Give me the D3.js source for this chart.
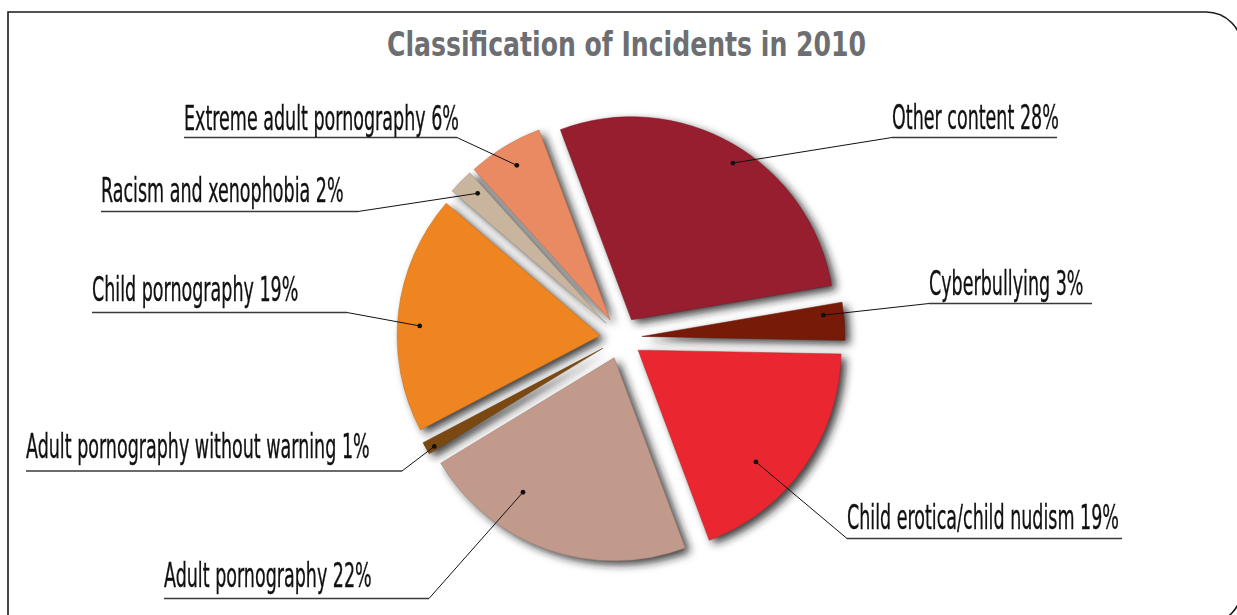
<!DOCTYPE html>
<html>
<head>
<meta charset="utf-8">
<script src="https://cdn.jsdelivr.net/npm/d3@7"></script>
<style>
  html, body { margin: 0; padding: 0; background: #ffffff; }
  svg { display: block; }
</style>
</head>
<body>
<svg id="chart" width="1237" height="615"></svg>
<script>
// Incident categories, clockwise from the top of the pie
const categories = [
  "Other content",
  "Cyberbullying",
  "Child erotica/child nudism",
  "Adult pornography",
  "Adult pornography without warning",
  "Child pornography",
  "Racism and xenophobia",
  "Extreme adult pornography"
];
// Share of incidents, percent
const shares = [28, 3, 19, 22, 1, 19, 2, 6];
const titleText = "Classification of Incidents in 2010";

// Slice fills
const sliceColors = ["#961e2e", "#781a08", "#ea2630", "#c29a8c", "#7a4810", "#ef8520", "#c9b59e", "#e98a62"];

// Callout placement: underline span, baseline, and where the dot sits inside its slice
const labelLayout = [
  { side: "right", x0: 892, x1: 1057, lineY: 137.5, baseline: 129,   dotAt: 0.53, dotR: 0.92 },
  { side: "right", x0: 929, x1: 1092, lineY: 303.5, baseline: 294.5, dotAt: 0.28, dotR: 0.90 },
  { side: "right", x0: 847, x1: 1122, lineY: 538.5, baseline: 528.5, dotAt: 0.62, dotR: 0.80 },
  { side: "left",  x0: 164, x1: 429,  lineY: 598.5, baseline: 587,   dotAt: 0.69, dotR: 0.80 },
  { side: "left",  x0: 26,  x1: 402,  lineY: 471,   baseline: 458,   dotAt: 0.30, dotR: 0.96 },
  { side: "left",  x0: 92,  x1: 347,  lineY: 312.5, baseline: 300.5, dotAt: 0.45, dotR: 0.89 },
  { side: "left",  x0: 101, x1: 358,  lineY: 211.5, baseline: 201.5, dotAt: 0.65, dotR: 0.90 },
  { side: "left",  x0: 184, x1: 457,  lineY: 137.5, baseline: 129.5, dotAt: 0.51, dotR: 0.89 }
];

const W = 1237, H = 615;
const cx = 621, cy = 338;     // pie centre
const R = 203;                // slice radius
const explode = 21;           // distance each slice is pulled out
const startDeg = -20.5;
const condensedFont = "'DejaVu Sans Condensed', 'DejaVu Sans', sans-serif";
const labelSize = 34;
const labelSqueeze = 0.573;
const titleSize = 33;
const titleWidth = 479;

const svg = d3.select("#chart");

// Shadow filter: blurred, offset silhouette only
const defs = svg.append("defs");
const f = defs.append("filter").attr("id", "sliceShadow")
  .attr("x", "-20%").attr("y", "-20%").attr("width", "140%").attr("height", "140%");
f.append("feGaussianBlur").attr("in", "SourceAlpha").attr("stdDeviation", 4.5).attr("result", "blur");
f.append("feOffset").attr("in", "blur").attr("dx", 5).attr("dy", 4).attr("result", "off");
f.append("feFlood").attr("flood-color", "#1e1e1e").attr("flood-opacity", 0.85).attr("result", "col");
f.append("feComposite").attr("in", "col").attr("in2", "off").attr("operator", "in");

// Frame with rounded right-hand corners
const fx0 = 8, fy0 = 12, fx1 = 1242, fy1 = 624, fr = 36;
svg.append("path")
  .attr("d", `M${fx0},${H + 20} L${fx0},${fy0} L${fx1 - fr},${fy0} A${fr},${fr} 0 0 1 ${fx1},${fy0 + fr} L${fx1},${fy1 - fr} A${fr},${fr} 0 0 1 ${fx1 - fr},${fy1} L${fx0 - 20},${fy1}`)
  .attr("fill", "none")
  .attr("stroke", "#1a1a1a")
  .attr("stroke-width", 1.6);

// Title, condensed to its set width
const title = svg.append("text")
  .attr("text-anchor", "middle")
  .attr("font-family", condensedFont)
  .attr("font-weight", "bold")
  .attr("font-size", titleSize)
  .attr("fill", "#6d6e71")
  .text(titleText);
const tw = title.node().getComputedTextLength();
title.attr("transform", `translate(626.5,56) scale(${titleWidth / tw},1)`);

// Pie layout
const rad = Math.PI / 180;
const pie = d3.pie().sort(null).value(d => d)
  .startAngle(startDeg * rad).endAngle(startDeg * rad + 2 * Math.PI);
const arcs = pie(shares);
const arc = d3.arc().innerRadius(0).outerRadius(R);

function offsetOf(d) {
  const mid = (d.startAngle + d.endAngle) / 2;
  return [explode * Math.sin(mid), -explode * Math.cos(mid)];
}

const pieG = svg.append("g").attr("transform", `translate(${cx},${cy})`);

// Shadows first, then slices on top
pieG.append("g").attr("filter", "url(#sliceShadow)")
  .selectAll("path").data(arcs).join("path")
  .attr("transform", d => `translate(${offsetOf(d)})`)
  .attr("d", arc)
  .attr("fill", "#000");

pieG.append("g")
  .selectAll("path").data(arcs).join("path")
  .attr("transform", d => `translate(${offsetOf(d)})`)
  .attr("d", arc)
  .attr("fill", (d, i) => sliceColors[i])
  .attr("stroke", (d, i) => d3.color(sliceColors[i]).darker(0.6))
  .attr("stroke-opacity", 0.5)
  .attr("stroke-width", 1);

// Callouts
const callG = svg.append("g");
arcs.forEach((d, i) => {
  const L = labelLayout[i];
  const [ox, oy] = offsetOf(d);
  const a = d.startAngle + L.dotAt * (d.endAngle - d.startAngle);
  const r = L.dotR * R;
  const px = cx + ox + r * Math.sin(a);
  const py = cy + oy - r * Math.cos(a);
  const ax = L.side === "left" ? L.x1 : L.x0;

  callG.append("line")
    .attr("x1", L.x0).attr("x2", L.x1).attr("y1", L.lineY).attr("y2", L.lineY)
    .attr("stroke", "#3a3a3a").attr("stroke-width", 1.4);
  callG.append("line")
    .attr("x1", ax).attr("y1", L.lineY).attr("x2", px).attr("y2", py)
    .attr("stroke", "#111").attr("stroke-width", 1);
  callG.append("circle")
    .attr("cx", px).attr("cy", py).attr("r", 2.4).attr("fill", "#111");

  callG.append("text")
    .attr("transform", `translate(${L.x0},${L.baseline}) scale(${labelSqueeze},1)`)
    .attr("font-family", condensedFont)
    .attr("font-size", labelSize)
    .attr("fill", "#111")
    .attr("stroke", "#111")
    .attr("stroke-width", 0.35)
    .text(`${categories[i]} ${shares[i]}%`);
});
</script>
</body>
</html>
